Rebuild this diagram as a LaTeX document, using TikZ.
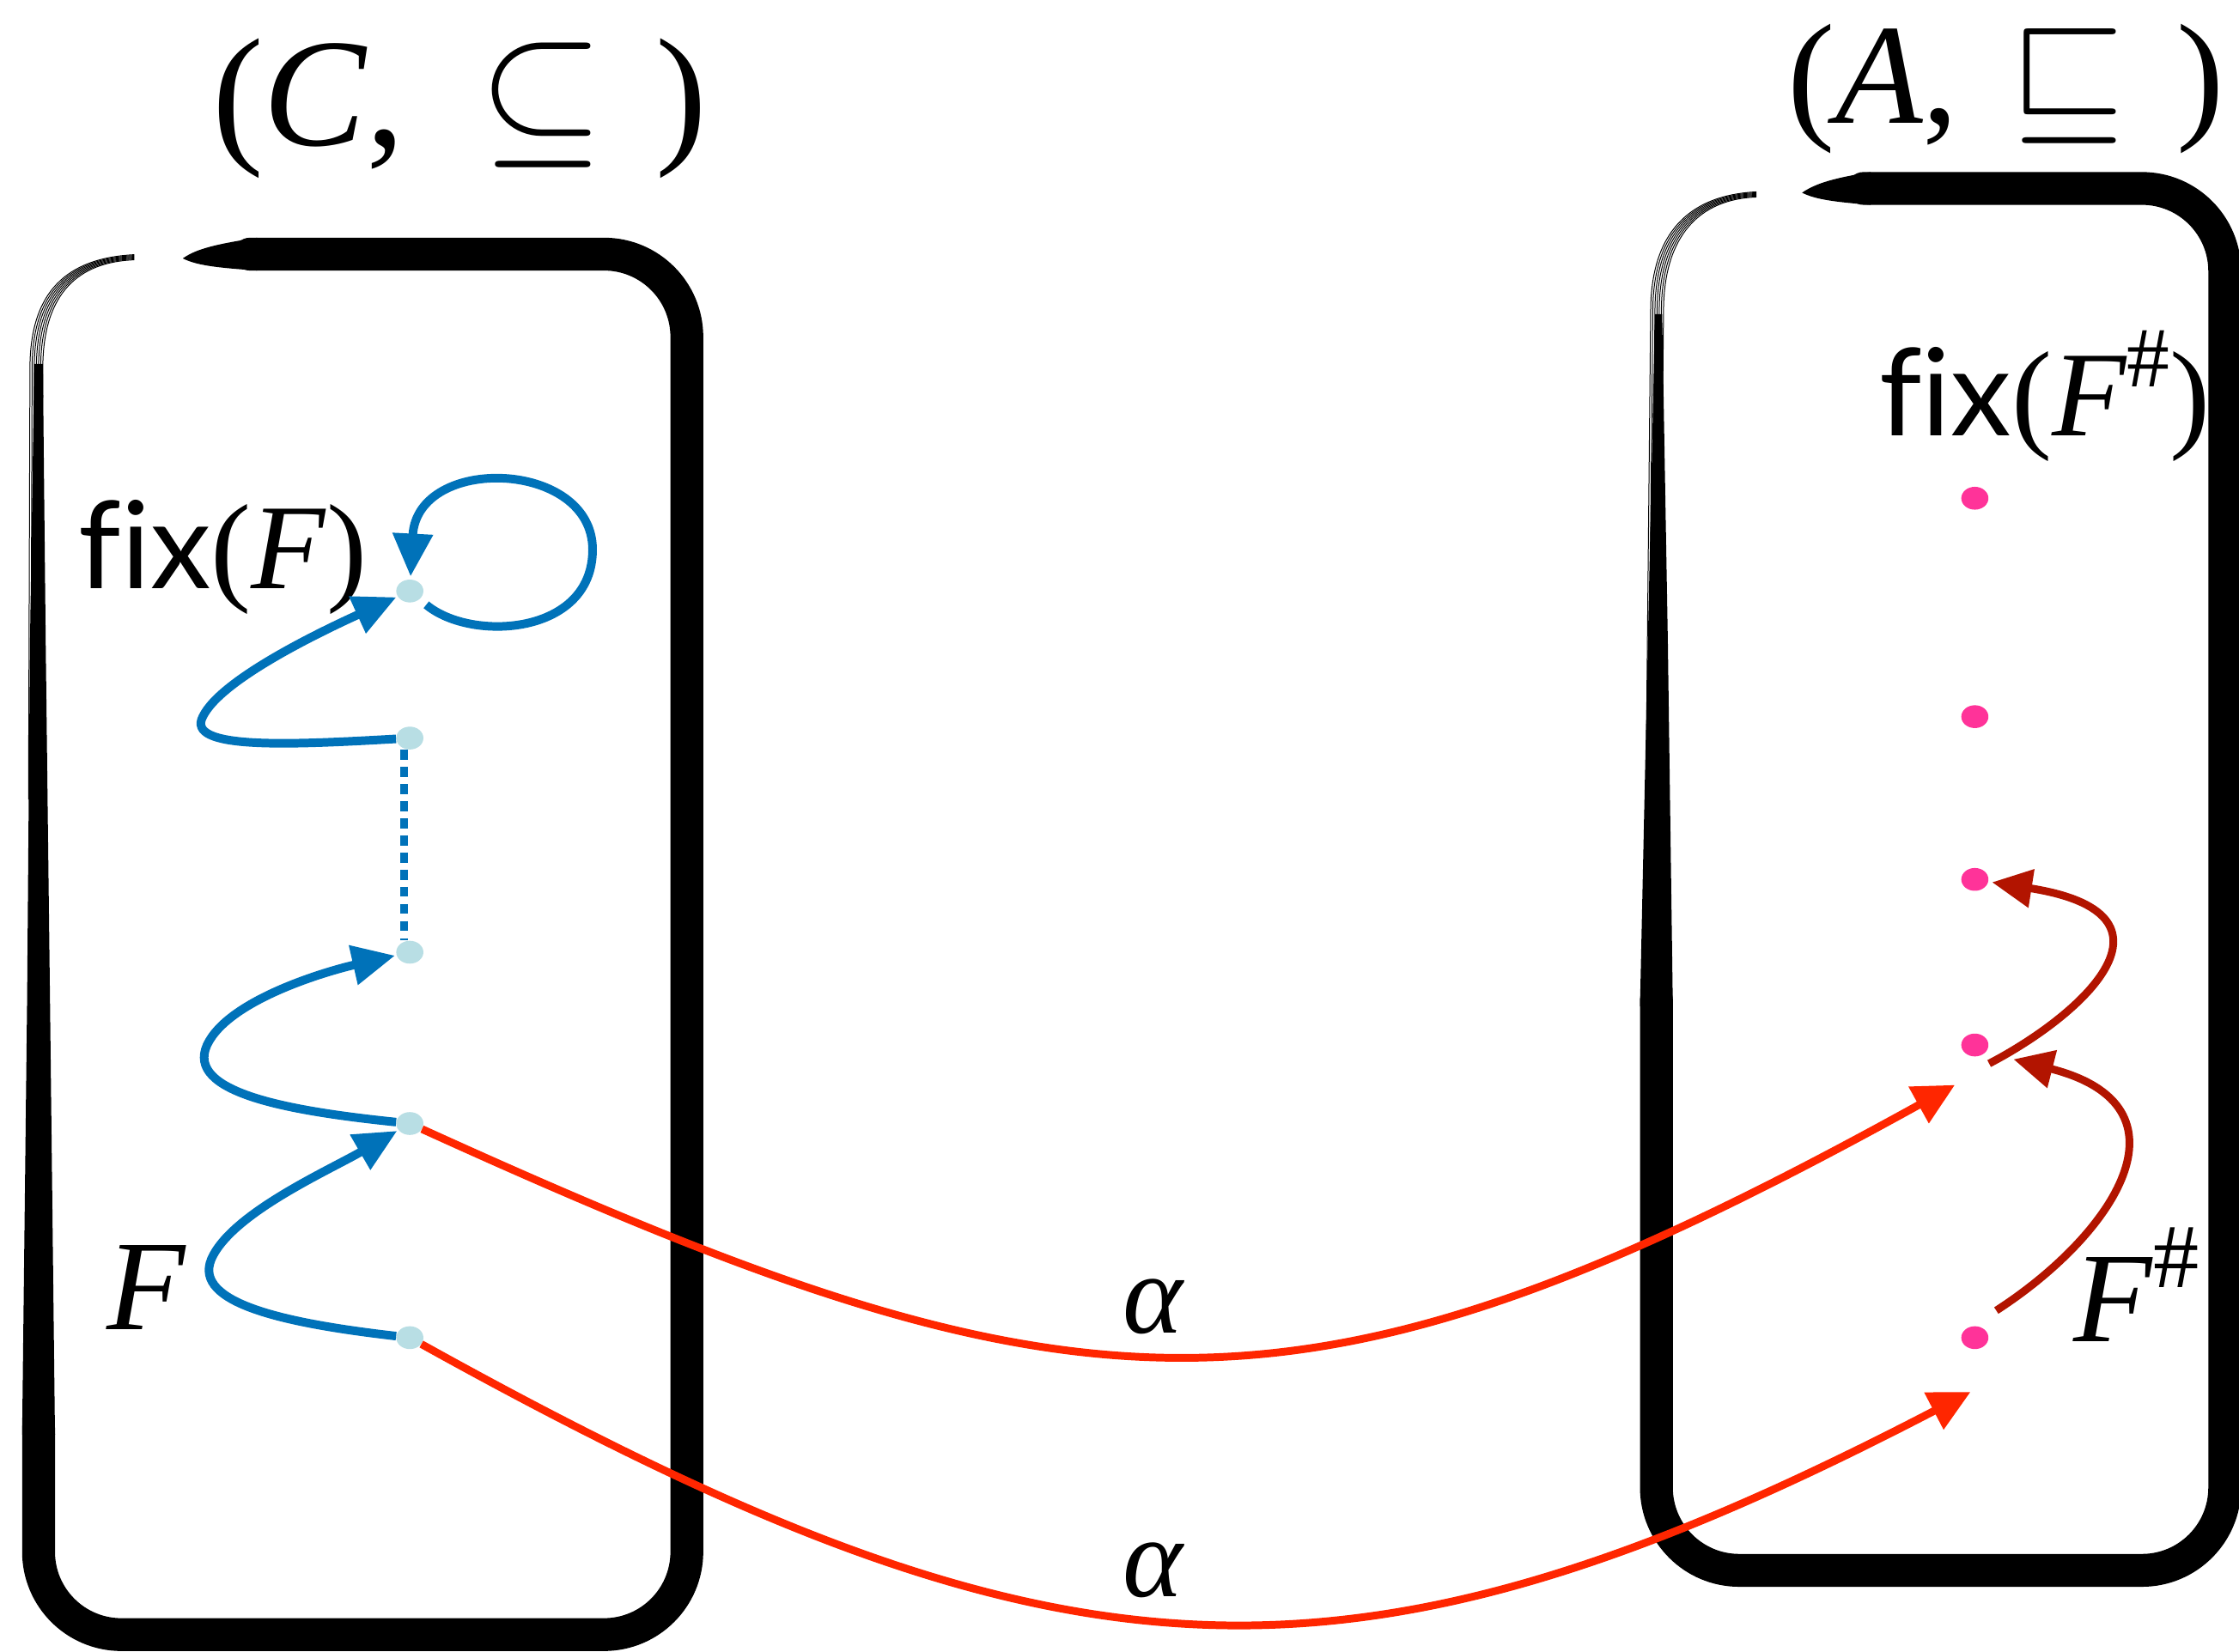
\documentclass[tikz,border=0pt]{standalone}
\usepackage{graphicx}
\usepackage{fontspec}
\newfontfamily\tms{Liberation Serif}
\newfontfamily\gill{Lato}
\usetikzlibrary{arrows.meta,shapes.geometric}
\definecolor{fblue}{RGB}{0,114,185}
\definecolor{dotc}{RGB}{184,222,228}
\definecolor{pinkc}{RGB}{255,51,153}
\definecolor{redc}{RGB}{255,38,0}
\definecolor{dred}{RGB}{178,20,0}
\newcommand{\fixword}{{\gill f\kern0pt i\kern0pt x}}
\begin{document}
\begin{tikzpicture}[x=1pt,y=-1pt,
  boxline/.style={line width=23pt, line cap=round, line join=round, rounded corners=58pt},
  sketch/.style={line width=0.6pt},
  cdot/.style={ellipse, fill=dotc, minimum width=19pt, minimum height=16pt, inner sep=0pt},
  adot/.style={ellipse, fill=pinkc, minimum width=19pt, minimum height=16pt, inner sep=0pt},
  barrow/.style={fblue, line width=6pt, -{Triangle[length=30pt,width=27pt]}},
  rarrow/.style={redc, line width=5.4pt, -{Triangle[length=29pt,width=28pt]}},
  drarrow/.style={dred, line width=5.4pt, -{Triangle[length=28pt,width=26pt]}},
  lbl/.style={inner sep=0pt}
]
\useasboundingbox (0,0) rectangle (1568,1157);
\fill[white] (0,0) rectangle (1568,1157);

% ---------- left box ----------
\draw[boxline] (175,178) -- (481,178) -- (481,1145) -- (27,1145) -- (27,1000);
\fill (15.5,1005) -- (38.5,1005) -- (35,700) -- (32,450) -- (30,255) -- (24,255) -- (21,450) -- (19,700) -- cycle;
\fill (128,181) .. controls (138,174) and (152,171) .. (180,166.5) -- (180,189.5) .. controls (152,187.5) and (138,186) .. (128,181) -- cycle;
\foreach \d in {-4,-2.5,-1,0.5,2,3.5,5}
  \draw[sketch] (24+\d,560) -- (25+\d,255) .. controls (26+\d,205) and (50+\d,182+\d*0.3) .. (94,180+\d*0.4);

% ---------- right box ----------
\draw[boxline] (1305,132) -- (1558,132) -- (1558,1100) -- (1160,1100) -- (1160,700);
\fill (1148.5,705) -- (1171.5,705) -- (1168,450) -- (1164,220) -- (1159,220) -- (1154,450) -- cycle;
\fill (1262,135) .. controls (1272,128) and (1286,124.5) .. (1310,120.5) -- (1310,143.5) .. controls (1286,141.5) and (1272,140) .. (1262,135) -- cycle;
\foreach \d in {-4,-2.5,-1,0.5,2,3.5,5}
  \draw[sketch] (1157+\d,520) -- (1160+\d,215) .. controls (1161+\d,165) and (1185+\d,138+\d*0.3) .. (1230,136+\d*0.4);

% ---------- titles ----------
\node[lbl] (tC) at (322,76) {\fontsize{108}{120}\selectfont\tms(\textit{C},\hspace{52pt}\scalebox{11.3}{\fontsize{10}{12}\selectfont$\subseteq$}\hspace{36pt})};
\node[lbl] (tA) at (1405,62) {\fontsize{100}{110}\selectfont\tms(\textit{A},\hspace{36pt}\scalebox{10.4}{\fontsize{10}{12}\selectfont$\sqsubseteq$}\hspace{36pt})};

% ---------- labels ----------
\node[lbl, anchor=base west] (fixF) at (55,412) {\fontsize{85}{90}\selectfont\fixword\tms(\textit{F})};
\node[lbl, anchor=base west] (fixFa) at (1316,305) {\fontsize{85}{90}\selectfont\fixword\tms(\textit{F}\raisebox{0.40em}{\fontsize{60}{60}\selectfont\#})};
\node[lbl] (Flab) at (103,902) {\fontsize{90}{90}\selectfont\tms\textit{F}};
\node[lbl] (Fsh) at (1496,900) {\fontsize{90}{90}\selectfont\tms\textit{F}\raisebox{0.42em}{\fontsize{64}{64}\selectfont\#}};
\node[lbl] (al1) at (808,915) {\fontsize{80}{80}\selectfont\tms\textit{α}};
\node[lbl] (al2) at (808,1100) {\fontsize{80}{80}\selectfont\tms\textit{α}};

% ---------- concrete dots ----------
\node[cdot] (c1) at (287,414) {};
\node[cdot] (c2) at (287,517) {};
\node[cdot] (c3) at (287,667) {};
\node[cdot] (c4) at (287,787) {};
\node[cdot] (c5) at (287,937) {};

% ---------- abstract dots ----------
\node[adot] (a1) at (1383,349) {};
\node[adot] (a2) at (1383,502) {};
\node[adot] (a3) at (1383,616) {};
\node[adot] (a4) at (1383,732) {};
\node[adot] (a5) at (1383,937) {};

% ---------- blue connectors ----------
\draw[barrow, shorten <=6pt, shorten >=2pt] (c1) .. controls (330,450) and (415,445) .. (415,385) .. controls (415,322) and (292,318) .. (c1);
\draw[barrow, shorten >=1pt] (c2) .. controls (200,522) and (130,525) .. (142,502) .. controls (155,475) and (230,440) .. (c1);
\draw[fblue, line width=5pt, dash pattern=on 7pt off 5pt] ([xshift=-4pt]c2.south) -- ([xshift=-4pt]c3.north);
\draw[barrow, shorten >=1pt] (c4) .. controls (200,778) and (130,765) .. (145,732) .. controls (160,700) and (230,680) .. (c3);
\draw[barrow, shorten >=1pt] (c5) .. controls (200,927) and (135,913) .. (148,882) .. controls (162,850) and (230,820) .. (c4);

% ---------- alpha connectors ----------
\draw[rarrow] (c4) .. controls (755,1000) and (908,1015) .. ([shift={(-14,28)}]a4.center);
\draw[rarrow] (c5) .. controls (737,1187) and (940,1204) .. ([shift={(-3,38)}]a5.center);

% ---------- F# connectors ----------
\draw[drarrow] ([shift={(15,-19)}]a5.center) .. controls (1480,865) and (1540,775) .. ([shift={(27,10)}]a4.center);
\draw[drarrow] ([shift={(10,13)}]a4.center) .. controls (1460,710) and (1535,640) .. ([shift={(12,2)}]a3.center);
\end{tikzpicture}
\end{document}
